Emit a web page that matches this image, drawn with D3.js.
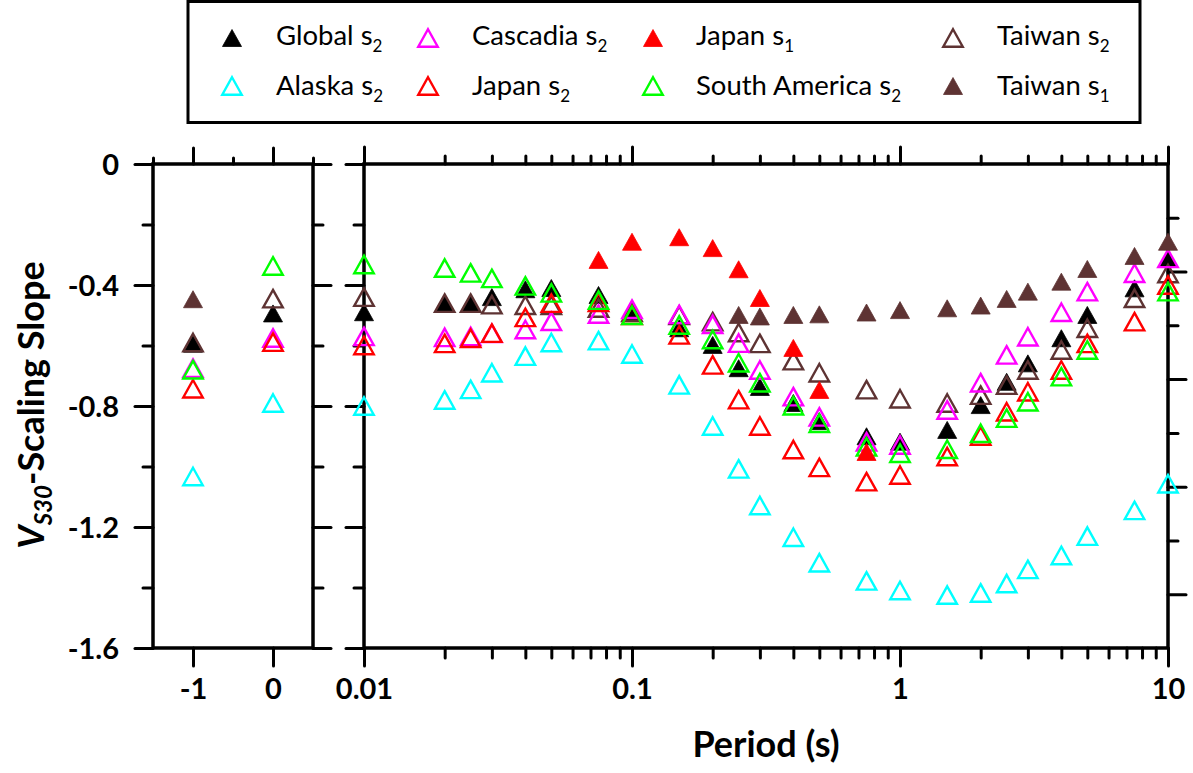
<!DOCTYPE html>
<html><head><meta charset="utf-8">
<script src="https://cdn.jsdelivr.net/npm/d3@7"></script>
<style>
body{margin:0;background:#fff}
svg{display:block}
text{font-family:Lato,"Open Sans",sans-serif;fill:#000}
</style>
</head><body>
<svg id="c" width="1193" height="773"></svg>
<script>
// ---------- data ----------
const periods = [0.01,0.02,0.025,0.03,0.04,0.05,0.075,0.1,0.15,0.2,0.25,0.3,0.4,0.5,0.75,1,1.5,2,2.5,3,4,5,7.5,10];
const leftCats = [-1, 0];          // -1 = PGV, 0 = PGA
const leftTickLabels = ["-1","0"];
const xTickLabels = ["0.01","0.1","1","10"];
const yTickLabels = ["0","-0.4","-0.8","-1.2","-1.6"];

const globalLeft = [-0.594,-0.494];
const globalMain = [-0.49,-0.46,-0.46,-0.44,-0.414,-0.41,-0.433,-0.49,-0.543,-0.598,-0.675,-0.737,-0.79,-0.85,-0.90,-0.918,-0.879,-0.797,-0.72,-0.659,-0.576,-0.499,-0.411,-0.312];

const alaskaLeft = [-1.033,-0.79];
const alaskaMain = [-0.80,-0.78,-0.745,-0.69,-0.635,-0.59,-0.584,-0.628,-0.73,-0.866,-1.008,-1.129,-1.234,-1.318,-1.378,-1.41,-1.425,-1.418,-1.387,-1.34,-1.294,-1.23,-1.145,-1.057];

const cascadiaLeft = [-0.675,-0.575];
const cascadiaMain = [-0.57,-0.573,-0.57,-0.56,-0.547,-0.52,-0.496,-0.48,-0.497,-0.53,-0.592,-0.681,-0.769,-0.836,-0.918,-0.929,-0.813,-0.723,-0.631,-0.571,-0.49,-0.422,-0.361,-0.312];

const japanS2Left = [-0.743,-0.589];
const japanS2Main = [-0.60,-0.593,-0.576,-0.559,-0.507,-0.46,-0.457,-0.50,-0.565,-0.664,-0.779,-0.866,-0.944,-1.003,-1.05,-1.028,-0.967,-0.899,-0.819,-0.753,-0.681,-0.593,-0.521,-0.40];

const japanS1Left = [null,null];
const japanS1Main = [null,null,null,null,null,null,-0.317,-0.257,-0.242,-0.278,-0.348,-0.443,-0.608,-0.747,-0.952,null,null,null,null,null,null,null,null,null];

const southAmLeft = [-0.68,-0.337];
const southAmMain = [-0.332,-0.344,-0.36,-0.378,-0.403,-0.426,-0.45,-0.50,-0.532,-0.58,-0.657,-0.723,-0.799,-0.857,-0.935,-0.956,-0.943,-0.89,-0.84,-0.786,-0.703,-0.615,null,-0.422];

const taiwanS2Left = [-0.59,-0.445];
const taiwanS2Main = [-0.44,-0.46,-0.46,-0.465,-0.467,-0.467,-0.476,-0.49,-0.50,-0.521,-0.557,-0.593,-0.65,-0.69,-0.746,-0.776,-0.79,-0.764,-0.731,-0.681,-0.615,-0.543,-0.444,-0.362];

const taiwanS1Left = [-0.447,null];
const taiwanS1Main = [null,null,null,null,null,null,null,null,null,null,-0.499,-0.504,-0.499,-0.497,-0.491,-0.483,-0.477,-0.468,-0.446,-0.422,-0.389,-0.347,-0.304,-0.257];

const seriesNames = ["Global","Alaska","Cascadia","Japan","Japan","South America","Taiwan","Taiwan"];
const seriesSubs  = ["2","2","2","2","1","2","2","1"];
const seriesColors = ["#000000","#00FFFF","#FF00FF","#FF0000","#FF0000","#00FF00","#5E3333","#5E3333"];
const seriesFilled = [true,false,false,false,true,false,false,true];
const seriesLeft = [globalLeft,alaskaLeft,cascadiaLeft,japanS2Left,japanS1Left,southAmLeft,taiwanS2Left,taiwanS1Left];
const seriesMain = [globalMain,alaskaMain,cascadiaMain,japanS2Main,japanS1Main,southAmMain,taiwanS2Main,taiwanS1Main];
// legend layout order (row-major): indices into series
const legendOrder = [[0,2,4,6],[1,3,5,7]];
// drawing order
const drawOrder = [0,1,6,2,3,5,4,7];

// ---------- layout ----------
const svg = d3.select("#c");
const Y0 = 164, Y1 = 648;
const LX0 = 153, LX1 = 313, MX0 = 364, MX1 = 1168;
const y  = d3.scaleLinear().domain([0,-1.6]).range([Y0,Y1]);
const y2 = d3.scaleLinear().domain([0,-1.8]).range([Y0,Y1]);
const xL = d3.scaleLinear().domain([-1.5,0.5]).range([LX0,LX1]);
const xM = d3.scaleLog().domain([0.01,10]).range([MX0,MX1]);

const yMajor = [0,-0.4,-0.8,-1.2,-1.6];
const yMinor = [-0.2,-0.6,-1.0,-1.4];
const y2Major = [-0.4,-0.8,-1.2,-1.6];
const y2Minor = [-0.2,-0.6,-1.0,-1.4];
const xMajor = [0.01,0.1,1,10];
const xMinor = [];
[0.01,0.1,1].forEach(d => { for (let k=2;k<=9;k++) xMinor.push(+(d*k).toPrecision(3)); });

const TICK_FONT = 29;

function styleAxis(g, showText){
  g.select(".domain").remove();
  g.selectAll(".tick line").attr("stroke","#000").attr("stroke-width",3).attr("stroke-linecap","round");
  if (showText) {
    g.selectAll(".tick text").attr("font-size",TICK_FONT).attr("font-weight","bold").attr("fill","#000");
  } else {
    g.selectAll(".tick text").remove();
  }
}

// ----- left panel axes -----
svg.append("g").attr("transform",`translate(${LX0},0)`)
  .call(d3.axisLeft(y).tickValues(yMajor).tickSize(18).tickPadding(16).tickFormat((d,i)=>yTickLabels[i]))
  .call(g=>styleAxis(g,true))
  .call(g=>g.selectAll(".tick text").attr("dy","0.36em"));
svg.append("g").attr("transform",`translate(${LX0},0)`)
  .call(d3.axisLeft(y).tickValues(yMinor).tickSize(10)).call(g=>styleAxis(g,false));
svg.append("g").attr("transform",`translate(${LX1},0)`)
  .call(d3.axisRight(y).tickValues(yMajor).tickSize(18)).call(g=>styleAxis(g,false));
svg.append("g").attr("transform",`translate(${LX1},0)`)
  .call(d3.axisRight(y).tickValues(yMinor).tickSize(10)).call(g=>styleAxis(g,false));
svg.append("g").attr("transform",`translate(0,${Y1})`)
  .call(d3.axisBottom(xL).tickValues(leftCats).tickSize(18).tickPadding(12).tickFormat((d,i)=>leftTickLabels[i]))
  .call(g=>styleAxis(g,true));
svg.append("g").attr("transform",`translate(0,${Y0})`)
  .call(d3.axisTop(xL).tickValues(leftCats).tickSize(16)).call(g=>styleAxis(g,false));
svg.append("g").attr("transform",`translate(0,${Y0})`)
  .call(d3.axisTop(xL).tickValues([-1.5,-0.5,0.5]).tickSize(6)).call(g=>styleAxis(g,false));

// ----- main panel axes -----
svg.append("g").attr("transform",`translate(${MX0},0)`)
  .call(d3.axisLeft(y).tickValues(yMajor).tickSize(18)).call(g=>styleAxis(g,false));
svg.append("g").attr("transform",`translate(${MX0},0)`)
  .call(d3.axisLeft(y).tickValues(yMinor).tickSize(10)).call(g=>styleAxis(g,false));
svg.append("g").attr("transform",`translate(${MX1},0)`)
  .call(d3.axisRight(y2).tickValues(y2Major).tickSize(18)).call(g=>styleAxis(g,false));
svg.append("g").attr("transform",`translate(${MX1},0)`)
  .call(d3.axisRight(y2).tickValues(y2Minor).tickSize(10)).call(g=>styleAxis(g,false));
svg.append("g").attr("transform",`translate(0,${Y1})`)
  .call(d3.axisBottom(xM).tickValues(xMajor).tickSize(18).tickPadding(12).tickFormat((d,i)=>xTickLabels[i]))
  .call(g=>styleAxis(g,true));
svg.append("g").attr("transform",`translate(0,${Y1})`)
  .call(d3.axisBottom(xM).tickValues(xMinor).tickSize(10)).call(g=>styleAxis(g,false));
svg.append("g").attr("transform",`translate(0,${Y0})`)
  .call(d3.axisTop(xM).tickValues(xMajor).tickSize(17)).call(g=>styleAxis(g,false));
svg.append("g").attr("transform",`translate(0,${Y0})`)
  .call(d3.axisTop(xM).tickValues(xMinor).tickSize(8)).call(g=>styleAxis(g,false));

// frames
svg.append("rect").attr("x",LX0).attr("y",Y0).attr("width",LX1-LX0).attr("height",Y1-Y0)
  .attr("fill","none").attr("stroke","#000").attr("stroke-width",3.5);
svg.append("rect").attr("x",MX0).attr("y",Y0).attr("width",MX1-MX0).attr("height",Y1-Y0)
  .attr("fill","none").attr("stroke","#000").attr("stroke-width",3.5);

// ----- markers -----
function tri(w,h){ return `M0,${-h/2}L${w/2},${h/2}L${-w/2},${h/2}Z`; }
const OPEN = tri(19.5,17.5), FILLED = tri(19,17);
function drawMark(sel, i){
  sel.attr("d", seriesFilled[i] ? FILLED : OPEN)
     .attr("fill", seriesFilled[i] ? seriesColors[i] : "none")
     .attr("stroke", seriesColors[i])
     .attr("stroke-width", seriesFilled[i] ? 0.8 : 2.4)
     .attr("stroke-linejoin","miter");
}
const pts = svg.append("g");
drawOrder.forEach(i => {
  const lp = leftCats.map((c,k)=>({x:c,v:seriesLeft[i][k]})).filter(d=>d.v!==null);
  const mp = periods.map((p,k)=>({x:p,v:seriesMain[i][k]})).filter(d=>d.v!==null);
  pts.selectAll(null).data(lp).enter().append("path")
    .attr("transform",d=>`translate(${xL(d.x)},${y(d.v)})`).call(s=>drawMark(s,i));
  pts.selectAll(null).data(mp).enter().append("path")
    .attr("transform",d=>`translate(${xM(d.x)},${y(d.v)})`).call(s=>drawMark(s,i));
});

// ----- axis titles -----
svg.append("text").attr("x",(MX0+MX1)/2).attr("y",757).attr("text-anchor","middle")
  .attr("font-size",36).attr("font-weight","bold").text("Period (s)");

const yt = svg.append("text").attr("transform","translate(44,405) rotate(-90)")
  .attr("text-anchor","middle").attr("font-size",36).attr("font-weight","bold");
yt.append("tspan").attr("font-style","italic").text("V");
yt.append("tspan").attr("font-style","italic").attr("font-size",24).attr("dy",8).text("S30");
yt.append("tspan").attr("dy",-8).text("-Scaling Slope");

// ----- legend -----
svg.append("rect").attr("x",188).attr("y",1.5).attr("width",952).attr("height",121)
  .attr("fill","#fff").attr("stroke","#000").attr("stroke-width",3);
const legMarkX = [232,428,653,953], legTextX = [276,472,696,997];
const legRowY = [45,95], legMarkY = [38,86];
legendOrder.forEach((row,r) => row.forEach((i,c) => {
  svg.append("path").attr("transform",`translate(${legMarkX[c]},${legMarkY[r]})`).call(s=>drawMark(s,i));
  const t = svg.append("text").attr("x",legTextX[c]).attr("y",legRowY[r]).attr("font-size",27.5);
  t.append("tspan").text(seriesNames[i] + " s");
  t.append("tspan").attr("font-size",17).attr("dy",7).text(seriesSubs[i]);
}));
</script>
</body></html>
